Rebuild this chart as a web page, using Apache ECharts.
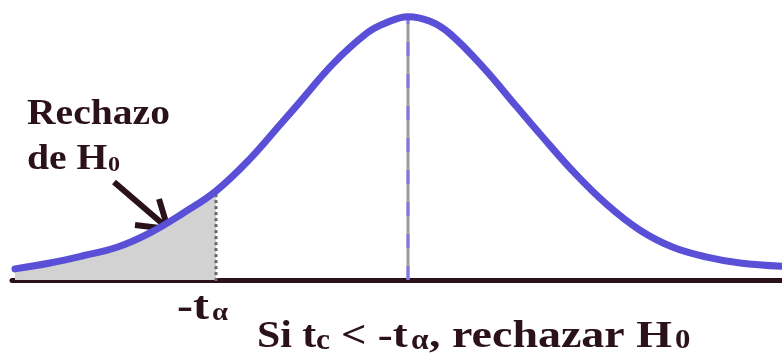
<!DOCTYPE html>
<html>
<head>
<meta charset="utf-8">
<title>Rechazo de H0</title>
<script src="https://cdn.jsdelivr.net/npm/echarts@6/dist/echarts.min.js"></script>
<style>
html, body { margin: 0; padding: 0; background: #fff; }
#main { width: 782px; height: 360px; }
</style>
</head>
<body>
<div id="main"></div>
<script>
// curve (t value, height of the curve)
var tValues = [-3.93, -3.58, -3.25, -2.91, -2.58, -2.25, -1.92, -1.58, -1.28, -1.08, -0.75, -0.41, -0.23,
  0, 0.22, 0.42, 0.75, 1.09, 1.32, 1.65, 1.99, 2.32, 2.65, 2.99, 3.32, 3.74];
var density = [0.017, 0.026, 0.037, 0.050, 0.072, 0.102, 0.136, 0.185, 0.237, 0.272, 0.330, 0.377, 0.392,
  0.402, 0.395, 0.376, 0.325, 0.264, 0.223, 0.166, 0.115, 0.076, 0.050, 0.035, 0.026, 0.021];
var tAlpha = -1.92;
var alphaHeight = 0.136;
var peakHeight = 0.402;

var curve = tValues.map(function (t, i) { return [t, density[i]]; });
var tail = curve.filter(function (p) { return p[0] <= tAlpha; });

var ink = '#2b1119';
var serif = '"Liberation Serif", "Times New Roman", serif';

function txt(x, y, text, size, sx) {
  return {
    type: 'text', x: x, y: y, scaleX: sx,
    style: { text: text, font: 'bold ' + size + 'px ' + serif, fill: ink, align: 'left', verticalAlign: 'top' }
  };
}

var myChart = echarts.init(document.getElementById('main'));
var option = {
  animation: false,
  grid: { left: 12, right: 0, top: 0, bottom: 80 },
  xAxis: {
    type: 'value', min: -3.96, max: 3.74,
    axisLine: { show: true, onZero: false, lineStyle: { color: ink, width: 5 } },
    axisTick: { show: false }, axisLabel: { show: false }, splitLine: { show: false }
  },
  yAxis: { type: 'value', min: 0, max: 0.4275, show: false },
  series: [
    {
      type: 'line', data: tail, smooth: 0.4, symbol: 'none', silent: true,
      lineStyle: { width: 0 }, areaStyle: { color: '#d2d2d2', opacity: 1 }, z: 1
    },
    {
      type: 'line', data: [[tAlpha, -0.02], [tAlpha, alphaHeight]], symbol: 'none',
      lineStyle: { color: '#666666', width: 3, type: [3, 3] }, z: 2
    },
    {
      type: 'line', data: [[0, 0], [0, peakHeight]], symbol: 'none',
      lineStyle: { color: '#9c9c9c', width: 3 }, z: 2
    },
    {
      type: 'line', data: [[0, 0], [0, peakHeight]], symbol: 'none',
      lineStyle: { color: '#8078e0', width: 3, type: [14, 18] }, z: 3
    },
    {
      type: 'line', data: curve, smooth: 0.4, symbol: 'none',
      lineStyle: { color: '#5a4fd7', width: 7, cap: 'round' }, z: 4
    }
  ],
  graphic: [
    txt(27, 97, 'Rechazo', 36, 1.1),
    txt(27, 142, 'de H', 36, 1.1),
    txt(108, 154, '0', 22, 1.1),
    txt(177, 289, '-t', 40, 1.2),
    txt(212, 300, 'α', 26, 1.1),
    txt(257, 318, 'Si t', 38, 1.1),
    txt(316, 326, 'c', 30, 1.05),
    txt(341, 318, '< -t', 38, 1.18),
    txt(411, 326, 'α', 30, 1.05),
    txt(429, 318, ', rechazar H', 38, 1.21),
    txt(675, 327, '0', 28, 1.1),
    {
      type: 'line', shape: { x1: 114, y1: 182, x2: 164, y2: 225 },
      style: { stroke: ink, lineWidth: 6 }
    },
    {
      type: 'polyline', shape: { points: [[135, 225], [168, 229], [159, 199]] },
      style: { stroke: ink, lineWidth: 6, fill: null, lineJoin: 'miter' }
    }
  ]
};
myChart.setOption(option);
</script>
</body>
</html>
